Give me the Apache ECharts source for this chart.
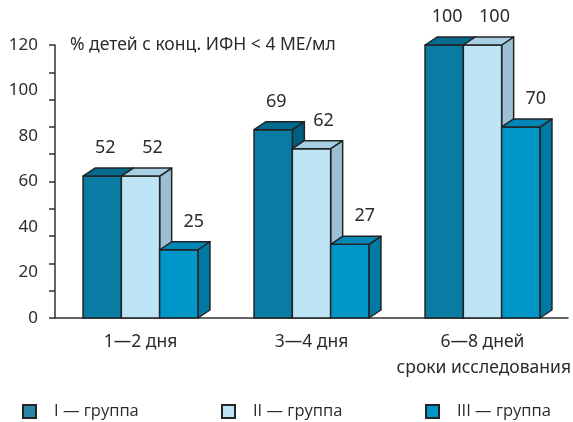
<!DOCTYPE html>
<html>
<head>
<meta charset="utf-8">
<script src="https://cdn.jsdelivr.net/npm/echarts@6/dist/echarts.min.js"></script>
<style>
  html, body { margin: 0; padding: 0; background: #fff; }
  #chart { width: 573px; height: 422px; }
</style>
</head>
<body>
<div id="chart"></div>
<script>
// Доля детей с концентрацией ИФН < 4 МЕ/мл по срокам исследования
const categories = ['1—2 дня', '3—4 дня', '6—8 дней'];
const groupI = [52, 69, 100];
const groupII = [52, 62, 100];
const groupIII = [25, 27, 70];
const seriesNames = ['I — группа', 'II — группа', 'III — группа'];
const tickLabels = ['0', '20', '40', '60', '80', '100', '120'];

const FONT = '"Noto Sans", "DejaVu Sans", sans-serif';
const LEGEND_FONT = '"Open Sans", "DejaVu Sans", sans-serif';
const TEXT = '#2b2b2b';
const EDGE = '#232323';

// front / top / side shades of each 3D bar
const palettes = [
  { front: '#0a7ba3', top: '#006b8e', side: '#005f80', legend: '#2a86a7' },
  { front: '#bde5f6', top: '#a8d0e4', side: '#9bc0d3', legend: '#bde5f6' },
  { front: '#0097c8', top: '#0087b6', side: '#0079a4', legend: '#0097c8' }
];
const labelShift = [3, 12, 15];

function bar3d(idx) {
  const pal = palettes[idx];
  return function (params, api) {
    const ci = api.value(0);
    const v = api.value(1);
    const base = api.coord([ci, 0]);
    const top = api.coord([ci, v]);
    const band = api.size([1, 0])[0];
    const w = band * 0.224;
    const x0 = base[0] - 1.5 * w + idx * w;
    const x1 = x0 + w;
    const yb = base[1];
    const yt = top[1];
    const dx = 12, dy = 8;
    const stroke = { stroke: EDGE, lineWidth: 1.5, lineJoin: 'round' };
    return {
      type: 'group',
      children: [
        { type: 'polygon', shape: { points: [[x1, yt], [x1 + dx, yt - dy], [x1 + dx, yb - dy], [x1, yb]] },
          style: Object.assign({ fill: pal.side }, stroke) },
        { type: 'rect', shape: { x: x0, y: yt, width: w, height: yb - yt },
          style: Object.assign({ fill: pal.front }, stroke) },
        { type: 'polygon', shape: { points: [[x0, yt], [x0 + dx, yt - dy], [x1 + dx, yt - dy], [x1, yt]] },
          style: Object.assign({ fill: pal.top }, stroke) },
        { type: 'text', x: (x0 + x1) / 2 + labelShift[idx], y: yt - dy - 20,
          style: { text: String(v), fill: TEXT, font: '18px ' + FONT, align: 'center', verticalAlign: 'middle' } }
      ]
    };
  };
}

const groups = [groupI, groupII, groupIII];
const series = groups.map((vals, i) => ({
  name: seriesNames[i],
  type: 'custom',
  renderItem: bar3d(i),
  itemStyle: { color: palettes[i].legend, borderColor: EDGE, borderWidth: 1.5 },
  encode: { x: 0, y: 1 },
  clip: false,
  z: 2 + i,
  data: vals.map((v, ci) => [ci, v])
}));

const legendLeft = [17, 216, 420];
const legends = seriesNames.map((name, i) => ({
  data: [name],
  left: legendLeft[i],
  top: 398,
  icon: 'rect',
  itemWidth: 13,
  itemHeight: 13,
  itemGap: 0,
  selectedMode: false,
  textStyle: { fontFamily: LEGEND_FONT, fontSize: 16.5, color: TEXT, padding: [0, 0, 0, 13] }
}));

const chart = echarts.init(document.getElementById('chart'), null, { renderer: 'canvas' });
chart.setOption({
  animation: false,
  backgroundColor: '#fff',
  grid: { left: 55, right: 5, top: 45, bottom: 104 },
  legend: legends,
  xAxis: {
    type: 'category',
    data: categories,
    axisLine: { lineStyle: { color: '#333', width: 1.5 } },
    axisTick: { length: 6, lineStyle: { color: '#333', width: 1.5 } },
    axisLabel: { fontFamily: FONT, fontSize: 17.5, color: TEXT, margin: 15 }
  },
  yAxis: [
    {
      type: 'value', min: 0, max: 100, interval: 10,
      axisLine: { show: true, lineStyle: { color: '#333', width: 1.5 } },
      axisTick: { show: true, length: 6, lineStyle: { color: '#333', width: 1.5 } },
      axisLabel: { show: false },
      splitLine: { show: false }
    },
    {
      type: 'value', min: 0, max: 120, interval: 20, position: 'left',
      axisLine: { show: false }, axisTick: { show: false }, splitLine: { show: false },
      axisLabel: { fontFamily: FONT, fontSize: 17, color: TEXT, margin: 17,
        formatter: (val, i) => tickLabels[i] }
    }
  ],
  graphic: [
    { type: 'text', left: 70, top: 36,
      style: { text: '% детей с конц. ИФН < 4 МЕ/мл', fill: TEXT, font: '17.5px ' + FONT } },
    { type: 'text', right: 2, top: 359,
      style: { text: 'сроки исследования', fill: TEXT, font: '17.5px ' + FONT } }
  ],
  series: series
});
</script>
</body>
</html>
